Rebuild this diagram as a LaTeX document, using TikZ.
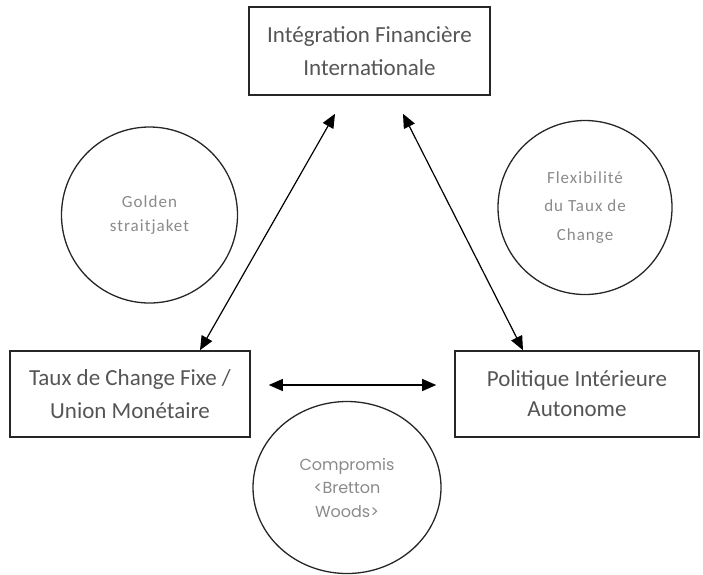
\documentclass[tikz,border=0pt]{standalone}
\usepackage{fontspec}
\setmainfont{Carlito}
\newfontfamily\ringfont[LetterSpace=6]{Carlito}
\newfontfamily\roundfont{Poppins}
\usetikzlibrary{arrows.meta,positioning,calc,shapes.geometric}
\definecolor{boxtext}{HTML}{555555}
\definecolor{ringtext}{HTML}{8A8A8A}

\begin{document}
\begin{tikzpicture}[x=1pt,y=-1pt,
  pole/.style={draw=black!85,line width=1.6pt,inner sep=0pt,align=center,text=boxtext,font=\fontsize{23}{33}\selectfont},
  ring/.style={draw=black!85,line width=1.3pt,circle,inner sep=0pt,align=center,text=ringtext,font=\ringfont\fontsize{17}{24}\selectfont},
  link/.style={{Triangle[length=14pt,width=12pt]}-{Triangle[length=14pt,width=12pt]},line width=1.2pt}]
\useasboundingbox (0,0) rectangle (703,574);
% the three corners
\node[pole,minimum width=241pt,minimum height=88pt] (integ) at (369.5,51) {Intégration Financière\\Internationale};
\node[pole,minimum width=240pt,minimum height=86pt] (fixe) at (130,394) {Taux de Change Fixe /\\Union Monétaire};
\node[pole,minimum width=244pt,minimum height=86pt,font=\fontsize{23}{30}\selectfont] (auton) at (577,394) {Politique Intérieure\\Autonome};
% the three choices
\node[ring,minimum size=176pt] (golden) at (149.5,215) {Golden\\straitjaket};
\node[ring,minimum size=174pt,font=\ringfont\fontsize{17}{28.5}\selectfont] (flex) at (585,207.5) {Flexibilité\\du Taux de\\Change};
\node[ring,ellipse,minimum width=188pt,minimum height=172pt,font=\roundfont\fontsize{16}{23.5}\selectfont] (bw) at (347,487.5) {Compromis\\<Bretton\\Woods>};
\path[link]
([shift={(-34.5,18)}]integ.south) edge ([xshift=70pt]fixe.north)
([shift={(33.5,18)}]integ.south) edge ([xshift=-54pt]auton.north)
([shift={(18,-9)}]fixe.east) edge ([shift={(-18,-9)}]auton.west)
;
\end{tikzpicture}
\end{document}
